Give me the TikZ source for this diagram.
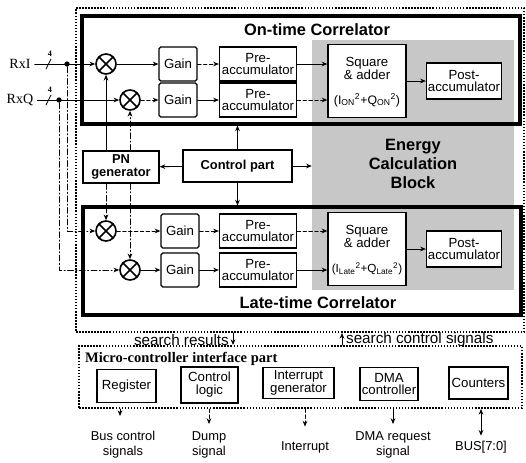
\documentclass[tikz,border=0pt]{standalone}
\usepackage{fontspec}
\setmainfont{Liberation Serif}
\setsansfont{Liberation Sans}
\usetikzlibrary{arrows.meta}

\begin{document}
\begin{tikzpicture}[x=0.03cm,y=-0.03cm,>={Stealth[length=1.7mm,width=1.4mm]},line cap=round,
  font=\sffamily\fontsize{11.3}{11}\selectfont,
  blk/.style={draw,line width=1.1pt,fill=white,align=center,inner sep=1pt},
  gainbox/.style={blk,rounded corners=1.5pt,minimum width=1.14cm,minimum height=1.02cm},
  prebox/.style={blk,minimum width=2.31cm,minimum height=1.02cm},
  sqbox/.style={blk,minimum width=2.34cm,minimum height=2.2cm},
  postbox/.style={blk,minimum width=2.25cm,minimum height=1.08cm},
  corrbox/.style={draw,line width=2.6pt,minimum width=13.14cm,minimum height=3.24cm,inner sep=0pt},
  dotbox/.style={draw,line width=1.7pt,line cap=butt,dash pattern=on 1.3pt off 1.3pt,inner sep=0pt},
  mult/.style={circle,draw,line width=1.4pt,fill=white,minimum size=0.6cm,inner sep=0pt,
    path picture={\draw[line width=1.4pt] (path picture bounding box.north west) -- (path picture bounding box.south east)
      (path picture bounding box.north east) -- (path picture bounding box.south west);}},
  junction/.style={circle,fill,inner sep=0pt,minimum size=4.5pt},
  sig/.style={->,line width=0.7pt},
  faint/.style={sig,dash pattern=on 3pt off 2pt},
  drop/.style={sig,dash pattern=on 5pt off 2pt on 1pt off 2pt},
  title/.style={font=\sffamily\bfseries\fontsize{14}{16}\selectfont,align=center},
  ifblk/.style={blk,minimum height=1.0cm},
  outlabel/.style={align=center,font=\sffamily\fontsize{11}{13}\selectfont}]
\useasboundingbox (0,0) rectangle (526,462);

% frames and the shaded energy block
\node[dotbox,minimum width=13.44cm,minimum height=9.72cm] (outer) at (300,170) {};
\node[fill=black!22,inner sep=0pt,minimum width=6.06cm,minimum height=7.5cm] (energy) at (413,165) {};
\node[corrbox] (ontime) at (301,70) {};
\node[corrbox] (late) at (302,261) {};
\node[title] (ontimettl) at (317,30) {On-time Correlator};
\node[title] (latettl) at (318,303) {Late-time Correlator};
\node[title] (energyttl) at (413,164) {Energy\\Calculation\\Block};

% inputs
\node[font=\rmfamily\fontsize{12}{12}\selectfont] (rxi) at (20,64) {RxI};
\node[font=\rmfamily\fontsize{12}{12}\selectfont] (rxq) at (20,100) {RxQ};
\node[font=\bfseries\fontsize{7}{7}\selectfont] (wI) at (50,54) {4};
\node[font=\bfseries\fontsize{7}{7}\selectfont] (wQ) at (50,90) {4};
\draw[line width=0.7pt] (46,69) -- (51,59);
\draw[line width=0.7pt] (46,105) -- (51,95);
\node[junction] (jI) at (67,64) {};
\node[junction] (jQ) at (59,100) {};

% multipliers
\node[mult] (m1) at (106,64) {};
\node[mult] (m2) at (130,100) {};
\node[mult] (lm1) at (106,231) {};
\node[mult] (lm2) at (130,270) {};

% on-time path
\node[gainbox] (g1) at (178,64) {Gain};
\node[gainbox] (g2) at (178,100) {Gain};
\node[prebox] (p1) at (258,64) {Pre-\\accumulator};
\node[prebox] (p2) at (258,100) {Pre-\\accumulator};
\node[sqbox] (sqon) at (367,81) {};
\node[align=center] (sqontxt) at (367,68) {Square\\\& adder};
\node[font=\sffamily\fontsize{10.5}{10}\selectfont] (sqonf) at (367,100) {(I\textsubscript{ON}\textsuperscript{2}+Q\textsubscript{ON}\textsuperscript{2})};
\node[postbox] (poston) at (464,81) {Post-\\accumulator};

% late-time path
\node[gainbox] (lg1) at (180,231) {Gain};
\node[gainbox] (lg2) at (180,270) {Gain};
\node[prebox] (lp1) at (258,231) {Pre-\\accumulator};
\node[prebox] (lp2) at (258,270) {Pre-\\accumulator};
\node[sqbox] (sqlate) at (367,249) {};
\node[align=center] (sqlatetxt) at (367,236) {Square\\\& adder};
\node[font=\sffamily\fontsize{10}{10}\selectfont] (sqlatef) at (367,269) {(I\textsubscript{Late}\textsuperscript{2}+Q\textsubscript{Late}\textsuperscript{2})};
\node[postbox] (postlate) at (464,249) {Post-\\accumulator};

% PN generator and control
\node[blk,font=\sffamily\bfseries\fontsize{11}{11}\selectfont,minimum width=2.28cm,minimum height=0.96cm] (pn) at (121,167) {PN\\generator};
\node[blk,font=\sffamily\bfseries\fontsize{11}{11}\selectfont,minimum width=3.27cm,minimum height=0.96cm] (ctrl) at (237.5,166) {Control part};

% connectors
\draw[sig] (rxi) -- (m1);
\draw[sig] (rxq) -- (m2);
\draw[drop] (jI) |- (lm1);
\draw[drop] (jQ) |- (lm2);
\draw[sig] (pn.north -| m1) -- (m1);
\draw[drop] (pn.north -| m2) -- (m2);
\draw[drop] (pn.south -| lm1) -- (lm1);
\draw[drop] (pn.south -| lm2) -- (lm2);
\draw[sig] (m1) -- (g1);
\draw[faint] (g1) -- (p1);
\draw[faint] (m2) -- (g2);
\draw[sig] (g2) -- (p2);
\draw[sig] (p1) -- (p1 -| sqon.west);
\draw[faint] (p2) -- (p2 -| sqon.west);
\draw[sig] (sqon) -- (poston);
\draw[faint] (lm1) -- (lg1);
\draw[faint] (lg1) -- (lp1);
\draw[sig] (lm2) -- (lg2);
\draw[sig] (lg2) -- (lp2);
\draw[faint] (lp1) -- (lp1 -| sqlate.west);
\draw[sig] (lp2) -- (lp2 -| sqlate.west);
\draw[sig] (sqlate) -- (postlate);
\draw[sig] (ctrl) -- (pn);
\draw[sig] (ctrl) -- (ctrl -| energy.west);
\draw[sig] (ctrl) -- (ctrl |- ontime.south);
\draw[sig] (ctrl) -- (ctrl |- late.north);

% micro-controller interface
\node[dotbox,minimum width=13.29cm,minimum height=1.86cm] (ifbox) at (300.5,377) {};
\node[anchor=west,font=\rmfamily\bfseries\fontsize{12.4}{12}\selectfont] (ifttl) at (81,359) {Micro-controller interface part};
\node[font=\sffamily\fontsize{13}{13}\selectfont,anchor=east] (srch) at (233,340) {search results};
\node[font=\sffamily\fontsize{13}{13}\selectfont,anchor=west] (sctl) at (342,340) {search control signals};
\draw[sig] (srch.east |- outer.south) -- (srch.east |- ifbox.north);
\draw[sig] (sctl.west |- ifbox.north) -- (sctl.west |- outer.south);

\node[ifblk,minimum width=1.77cm] (reg) at (126.5,386) {Register};
\node[ifblk,minimum width=1.71cm,minimum height=1.08cm] (clog) at (209.5,385) {Control\\logic};
\node[ifblk,minimum width=2.13cm,minimum height=0.92cm] (igen) at (298.5,383) {Interrupt\\generator};
\node[ifblk,minimum width=1.74cm,minimum height=0.98cm] (dma) at (389,384) {DMA\\controller};
\node[ifblk,minimum width=1.77cm,minimum height=0.96cm] (cnt) at (478.5,383) {Counters};

% outputs
\node[outlabel] (busctl) at (123,445) {Bus control\\signals};
\node[outlabel] (dump) at (209,445) {Dump\\signal};
\node[outlabel] (intr) at (305,447) {Interrupt};
\node[outlabel] (dmareq) at (393,445) {DMA request\\signal};
\node[outlabel] (bus) at (481,447) {BUS[7:0]};
\coordinate (busend) at (120,416);
\draw[sig] (ifbox.south -| busend) -- (busend);
\draw[faint] (ifbox.south -| dump) -- ([yshift=3pt]dump.north);
\draw[faint] (ifbox.south -| intr) -- ([yshift=9pt]intr.north);
\draw[sig] (ifbox.south -| dmareq) -- ([yshift=3pt]dmareq.north);
\draw[sig,<->] (ifbox.south -| bus) -- ([yshift=1pt]bus.north);
\end{tikzpicture}
\end{document}
